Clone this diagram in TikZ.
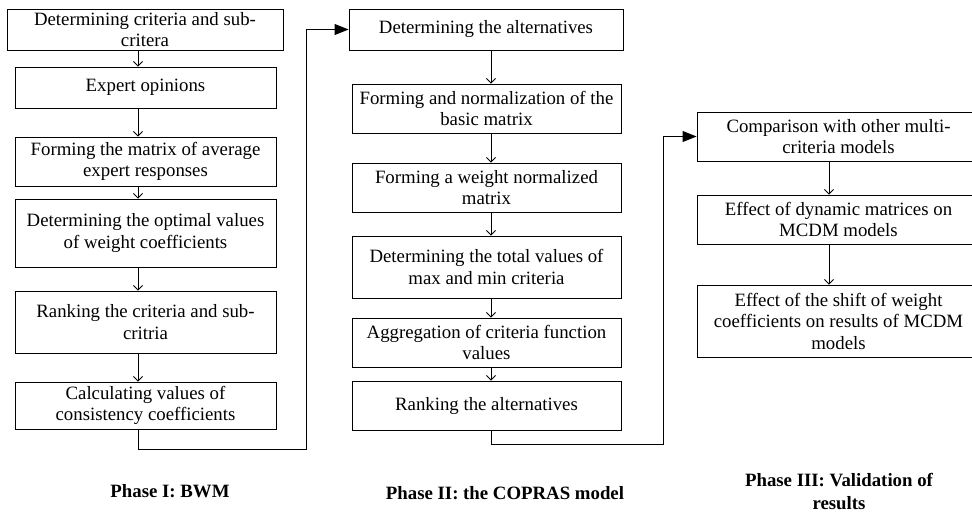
\documentclass[tikz,border=0pt]{standalone}
\usepackage{fontspec}
\setmainfont{Liberation Serif}
\usetikzlibrary{arrows.meta}
\begin{document}
\begin{tikzpicture}[x=1pt,y=-1pt,
  box/.style={draw, line width=0.9pt, inner sep=0pt, align=center,
    font=\fontsize{18.8}{21.5}\selectfont},
  flow/.style={line width=0.9pt, -{Straight Barb[length=4.5pt,width=9pt]}},
  jump/.style={line width=0.9pt, -{Triangle[length=14pt,width=11pt]}},
  phase/.style={align=center, font=\fontsize{18.8}{22.5}\selectfont\bfseries}]
\clip (0,0) rectangle (972,512);
% Column 1
\node[box, minimum width=276pt, minimum height=41pt] (b1) at (145,29.5) {Determining criteria and sub-\\critera};
\node[box, minimum width=261pt, minimum height=41pt] (b2) at (145.5,87.5) {Expert opinions};
\node[box, minimum width=261pt, minimum height=49pt] (b3) at (145.5,161.5) {Forming the matrix of average\\expert responses};
\node[box, minimum width=261pt, minimum height=68pt] (b4) at (145.5,233) {Determining the optimal values\\of weight coefficients};
\node[box, minimum width=261pt, minimum height=62pt] (b5) at (145.5,322) {Ranking the criteria and sub-\\critria};
\node[box, minimum width=261pt, minimum height=47pt] (b6) at (145.5,405.5) {Calculating values of\\consistency coefficients};
% Column 2
\node[box, minimum width=274pt, minimum height=41pt] (b7) at (486,29.5) {Determining the alternatives};
\node[box, minimum width=269pt, minimum height=49pt] (b8) at (486.5,108.5) {Forming and normalization of the\\basic matrix};
\node[box, minimum width=269pt, minimum height=49pt] (b9) at (486.5,187.5) {Forming a weight normalized\\matrix};
\node[box, minimum width=269pt, minimum height=62pt] (b10) at (486.5,267) {Determining the total values of\\max and min criteria};
\node[box, minimum width=269pt, minimum height=49pt] (b11) at (486.5,342.5) {Aggregation of criteria function\\values};
\node[box, minimum width=269pt, minimum height=49pt] (b12) at (486.5,405.5) {Ranking the alternatives};
% Column 3
\node[box, minimum width=283pt, minimum height=49pt] (b13) at (838.5,136.5) {Comparison with other multi-\\criteria models};
\node[box, minimum width=283pt, minimum height=49pt] (b14) at (838.5,219.5) {Effect of dynamic matrices on\\MCDM models};
\node[box, minimum width=283pt, minimum height=72pt] (b15) at (838.5,321) {Effect of the shift of weight\\coefficients on results of MCDM\\models};
% Phase labels
\node[phase] (p1) at (170,491) {Phase I: BWM};
\node[phase] (p2) at (505,493) {Phase II: the COPRAS model};
\node[phase] (p3) at (839,491.5) {Phase III: Validation of\\results};
% arrow columns
\coordinate (ax1) at (138,0);
\coordinate (ax2) at (491,0);
\coordinate (ax3) at (829,0);
\coordinate (c1) at (306,449);
\coordinate (c2) at (663,444);
\draw[flow] (b1.south -| ax1) -- (b2.north -| ax1);
\draw[flow] (b2.south -| ax1) -- (b3.north -| ax1);
\draw[flow] (b3.south -| ax1) -- (b4.north -| ax1);
\draw[flow] (b4.south -| ax1) -- (b5.north -| ax1);
\draw[flow] (b5.south -| ax1) -- (b6.north -| ax1);
\draw[flow] (b7.south -| ax2) -- (b8.north -| ax2);
\draw[flow] (b8.south -| ax2) -- (b9.north -| ax2);
\draw[flow] (b9.south -| ax2) -- (b10.north -| ax2);
\draw[flow] (b10.south -| ax2) -- (b11.north -| ax2);
\draw[flow] (b11.south -| ax2) -- (b12.north -| ax2);
\draw[flow] (b13.south -| ax3) -- (b14.north -| ax3);
\draw[flow] (b14.south -| ax3) -- (b15.north -| ax3);
\draw[jump] (b6.south -| ax1) |- (c1) |- (b7.west);
\draw[jump] (b12.south -| ax2) |- (c2) |- (b13.west);
\end{tikzpicture}
\end{document}
